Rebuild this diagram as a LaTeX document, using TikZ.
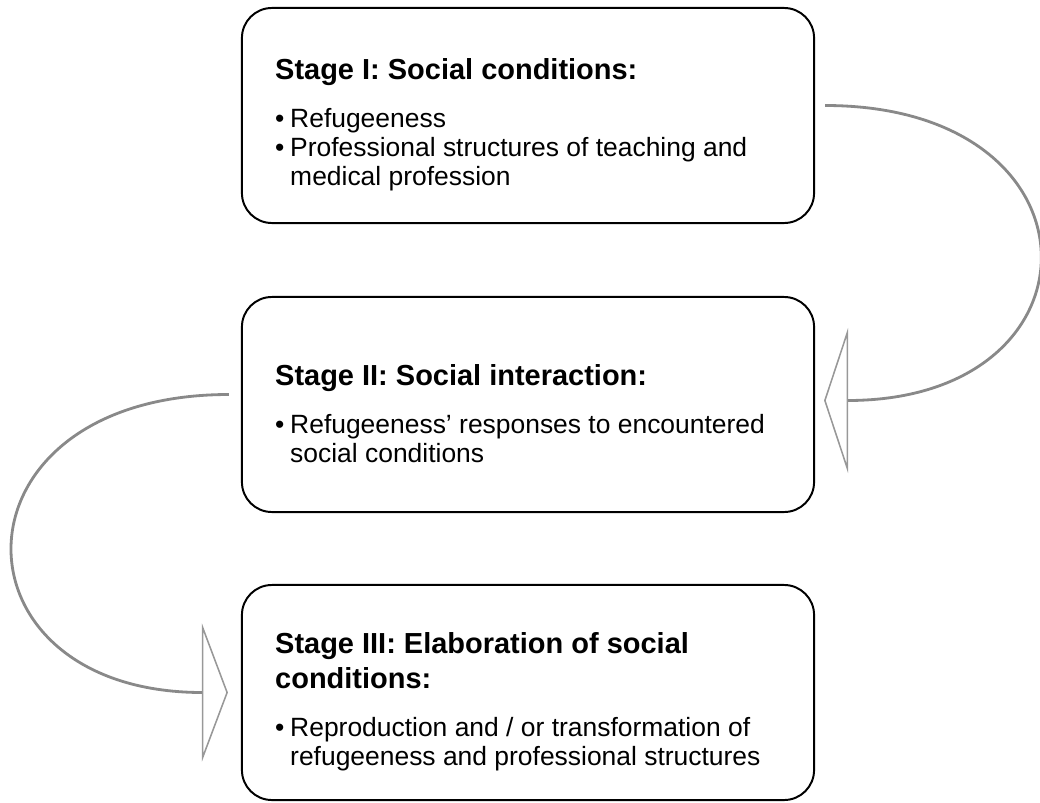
\documentclass[tikz,border=0pt]{standalone}
\usepackage{fontspec}
\setmainfont{Liberation Sans}
\usetikzlibrary{arrows.meta}
\usetikzlibrary{calc}

\definecolor{loopgray}{RGB}{137,137,137}
\definecolor{headgray}{RGB}{152,152,152}

\newcommand{\stagetitle}{\fontsize{20.6pt}{24.9pt}\selectfont\bfseries}
\newcommand{\stagebody}{\fontsize{18.8pt}{20.6pt}\selectfont}
\newcommand{\bul}{\makebox[0.375cm][l]{\textbullet}}
\newcommand{\ind}{\hspace*{0.375cm}}

\begin{document}
\begin{tikzpicture}[x=0.025cm, y=-0.025cm,
stagebox/.style={draw, line width=1.4pt, rounded corners=0.75cm, minimum width=14.3cm, minimum height=5.375cm, inner sep=0pt},
stagetext/.style={anchor=west, align=left, inner sep=0pt, font=\stagebody},
feedback/.style={draw=loopgray, line width=2pt}]

\useasboundingbox (0,0) rectangle (1040,803);

%%%%%% STAGES %%%%%%%%%%

\node[stagebox] (s1) at (528,115.5) {};
\node[stagebox] (s2) at (528,404.5) {};
\node[stagebox] (s3) at (528,692.5) {};

\node[stagetext] (t1) at ($(s1.west)+(34,9)$) {{\stagetitle Stage I: Social conditions:}\\[13.5pt]
\bul Refugeeness\\
\bul Professional structures of teaching and\\
\ind medical profession};

\node[stagetext] (t2) at ($(s2.west)+(34,9)$) {{\stagetitle Stage II: Social interaction:}\\[13.5pt]
\bul Refugeeness' responses to encountered\\
\ind social conditions};

\node[stagetext] (t3) at ($(s3.west)+(34,9)$) {{\stagetitle Stage III: Elaboration of social}\\[4.3pt]
{\stagetitle conditions:}\\[13.5pt]
\bul Reproduction and / or transformation of\\
\ind refugeeness and professional structures};

%%%%%% FEEDBACK LOOPS %%%%%%%%%%

\draw[feedback, -{Triangle[open, length=0.6cm, width=3.625cm, line width=1.1pt, color=headgray]}]
  ($(s1.east)+(10,-10)$) .. controls +(285,0) and +(285,0) .. ($(s2.east)+(9,-4)$);

\draw[feedback, -{Triangle[open, length=0.65cm, width=3.45cm, line width=1.1pt, color=headgray]}]
  ($(s2.west)+(-12,-10)$) .. controls +(-286,0) and +(-285,0) .. ($(s3.west)+(-13,0)$);

\end{tikzpicture}
\end{document}
